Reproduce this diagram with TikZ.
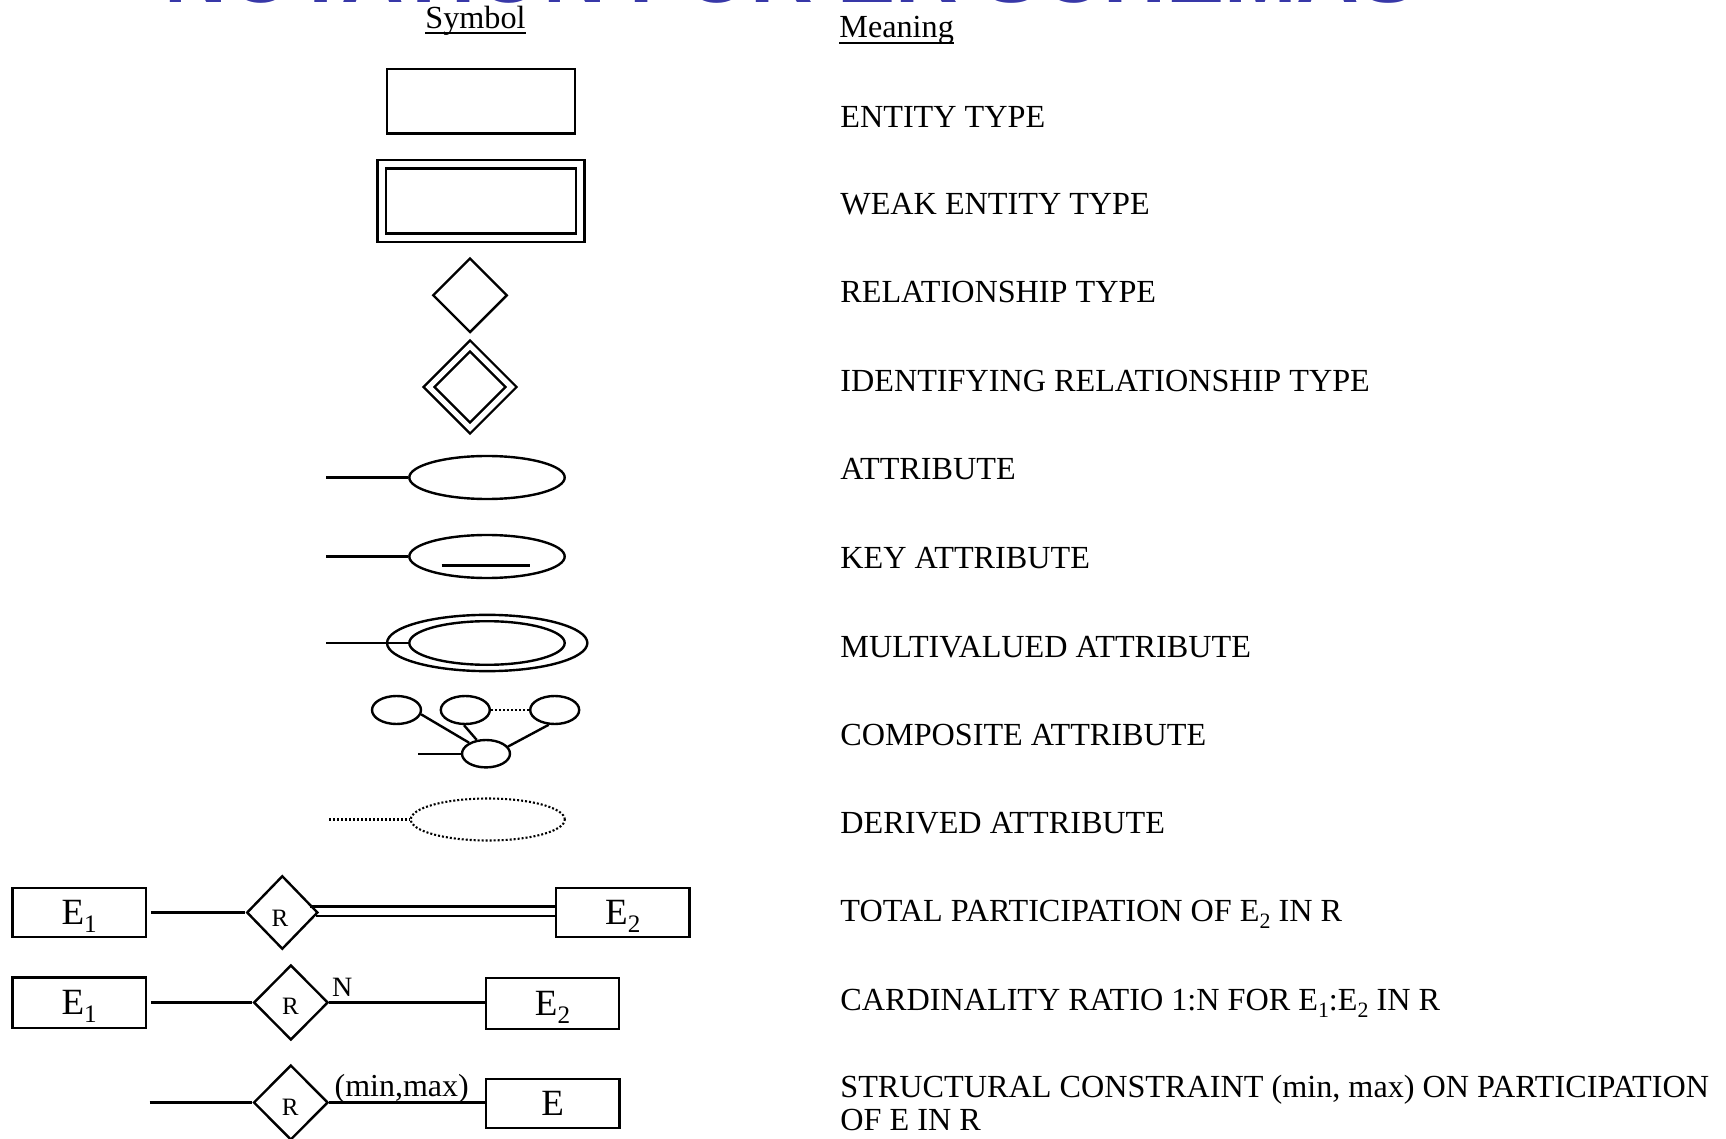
\documentclass[tikz,border=0pt]{standalone}
\usepackage{fontspec}
\setmainfont{Liberation Serif}
\newfontfamily\titlefont{Liberation Sans}
\usetikzlibrary{shapes.geometric,calc}
\definecolor{titleblue}{RGB}{56,56,168}
\newcommand\sbs[1]{\raisebox{-0.22em}{\scalebox{0.68}{#1}}}
\begin{document}
\begin{tikzpicture}[x=0.5pt,y=-0.5pt,
  ln/.style={line width=1.2pt},
  dotline/.style={line width=1.05pt,dash pattern=on 1pt off 1pt},
  mtxt/.style={anchor=base west,inner sep=0pt,font=\fontsize{16.1pt}{19pt}\selectfont},
  ebox/.style={draw,ln,rectangle,inner sep=0pt,minimum width=66.75pt,minimum height=24.5pt,
    font=\fontsize{18.5pt}{22pt}\selectfont,text height=12.2pt,text depth=0pt},
  relbox/.style={draw,ln,diamond,inner sep=0pt,minimum width=37.25pt,minimum height=37.5pt},
  attr/.style={draw,ln,ellipse,inner sep=0pt,minimum width=77.7pt,minimum height=21.5pt},
  cattr/.style={draw,ln,ellipse,inner sep=0pt,minimum width=24.5pt,minimum height=14pt},
  rlbl/.style={inner sep=0pt,font=\fontsize{12.5pt}{15pt}\selectfont,text height=8.25pt,text depth=0pt},
  ]
\path[use as bounding box] (0,0) rectangle (1726,1139);
% cut-off title
\begin{scope}
\clip (0,0) rectangle (1726,1139);
\node[anchor=base west,inner sep=0pt,text=titleblue,
  font=\titlefont\bfseries\fontsize{43.5pt}{50pt}\selectfont] (title) at (164,3) {NOTATION FOR ER SCHEMAS};
\end{scope}
% headers
\node[mtxt] (sym) at (425,28.3) {Symbol};
\draw[line width=0.85pt] ([yshift=-2.5pt]sym.base west) -- ([yshift=-2.5pt]sym.base east);
\node[mtxt] (mean) at (839,37.3) {Meaning};
\draw[line width=0.85pt] ([yshift=-3pt]mean.base west) -- ([yshift=-3pt]mean.base east);
% meanings
\node[mtxt] (m1) at (840,127.3) {ENTITY TYPE};
\node[mtxt] (m2) at (840,215) {WEAK ENTITY TYPE};
\node[mtxt] (m3) at (840,302.7) {RELATIONSHIP TYPE};
\node[mtxt] (m4) at (840,391.5) {IDENTIFYING RELATIONSHIP TYPE};
\node[mtxt] (m5) at (840,480) {ATTRIBUTE};
\node[mtxt] (m6) at (840,568.5) {KEY ATTRIBUTE};
\node[mtxt] (m7) at (840,657) {MULTIVALUED ATTRIBUTE};
\node[mtxt] (m8) at (840,745.3) {COMPOSITE ATTRIBUTE};
\node[mtxt] (m9) at (840,833.7) {DERIVED ATTRIBUTE};
\node[mtxt] (m10) at (840,921.7) {TOTAL PARTICIPATION OF E\sbs{2} IN R};
\node[mtxt] (m11) at (840,1010) {CARDINALITY RATIO 1:N FOR E\sbs{1}:E\sbs{2} IN R};
\node[mtxt] (m12) at (840,1097.3) {STRUCTURAL CONSTRAINT (min, max) ON PARTICIPATION};
\node[mtxt] (m12b) at (840,1130) {OF E IN R};
% entity / weak entity
\node[draw,ln,rectangle,inner sep=0pt,minimum width=94pt,minimum height=32.2pt] (ent) at (481,101.5) {};
\node[draw,ln,double,double distance=3.05pt,rectangle,inner sep=0pt,minimum width=99.25pt,minimum height=36.8pt] (weak) at (480.8,201) {};
% relationship / identifying
\node[relbox,minimum width=37.25pt,minimum height=37.25pt] (rel) at (470,295.3) {};
\node[relbox,double,double distance=2.65pt,minimum width=41.5pt,minimum height=41.5pt] (ident) at (470,387) {};
% attribute
\coordinate (a1s) at (326,477.5);
\node[attr] (a1) at (487,477.5) {};
\draw[ln] (a1s) -- (a1);
% key attribute
\coordinate (a2s) at (326,556.5);
\node[attr] (a2) at (487,556.5) {};
\draw[ln] (a2s) -- (a2);
\draw[ln] (441.7,565.3) -- (530,565.3);
% multivalued
\node[draw,ln,ellipse,inner sep=0pt,minimum width=100.15pt,minimum height=28.15pt] (a3o) at (487.2,643) {};
\node[attr,minimum height=21.8pt] (a3) at (487,643) {};
\coordinate (a3s) at (326,643);
\draw[ln] (a3s) -- (a3);
% composite
\node[cattr] (c1) at (396.5,710) {};
\node[cattr] (c2) at (465.3,710) {};
\node[cattr] (c3) at (554.7,710) {};
\node[cattr,minimum width=24pt,minimum height=13.7pt] (c4) at (486,753.7) {};
\coordinate (c4s) at (418.3,753.7);
\draw[ln] (c4s) -- (c4);
\draw[ln] (c1.-10) -- (c4.147);
\draw[ln] (c2.-95) -- (c4.124);
\draw[ln] (c3.-112) -- (c4.18);
\draw[dotline] (c2.east) -- (c3.west);
% derived
\coordinate (a5s) at (329,819.5);
\node[attr,dotline,minimum width=77pt,minimum height=21pt] (a5) at (487.8,819.5) {};
\draw[dotline] (a5s) -- (a5);
% row 1: total participation
\node[ebox] (r1e1) at (79.2,912.5) {E\sbs{1}};
\node[relbox,minimum width=35.6pt,minimum height=36.75pt] (r1r) at (282.3,912.5) {};
\node[rlbl] (r1rt) at ([shift={(-2.3,5.5)}]r1r.center) {R};
\node[ebox] (r1e2) at (622.8,912.5) {E\sbs{2}};
\draw[ln,shorten <=1.8pt] (r1e1) -- (r1r);
\draw[ln] ([shift={(-9,-6)}]r1r.east) -- ([shift={(0,-6)}]r1e2.west);
\draw[ln] ([shift={(-3,3.2)}]r1r.east) -- ([shift={(0,3.2)}]r1e2.west);
% row 2: cardinality
\node[ebox,minimum height=25.2pt] (r2e1) at (79.2,1002.5) {E\sbs{1}};
\node[relbox] (r2r) at (290.9,1002.5) {};
\node[rlbl] (r2rt) at ([shift={(-0.5,4.2)}]r2r.center) {R};
\node[ebox,minimum height=25.6pt] (r2e2) at (552.5,1003.5) {E\sbs{2}};
\draw[ln,shorten <=1.8pt] (r2e1) -- (r2r);
\draw[ln] (r2r.east) -- (r2r.east -| r2e2.west);
\node[anchor=base west,inner sep=0pt,font=\fontsize{14pt}{17pt}\selectfont] (r2n) at ([shift={(2.3,-6)}]r2r.east) {N};
% row 3: structural constraint
\coordinate (r3s) at (149.7,1102.5);
\node[relbox] (r3r) at (290.8,1102.5) {};
\node[rlbl] (r3rt) at ([shift={(-0.5,4.5)}]r3r.center) {R};
\node[ebox] (r3e) at (552.6,1103.3) {E};
\draw[ln] (r3s) -- (r3r);
\draw[ln] (r3r.east) -- (r3r.east -| r3e.west);
\node[anchor=base west,inner sep=0pt,font=\fontsize{16pt}{19pt}\selectfont] (r3mm) at ([shift={(5,-6)}]r3r.east) {(min,max)};
\end{tikzpicture}
\end{document}
